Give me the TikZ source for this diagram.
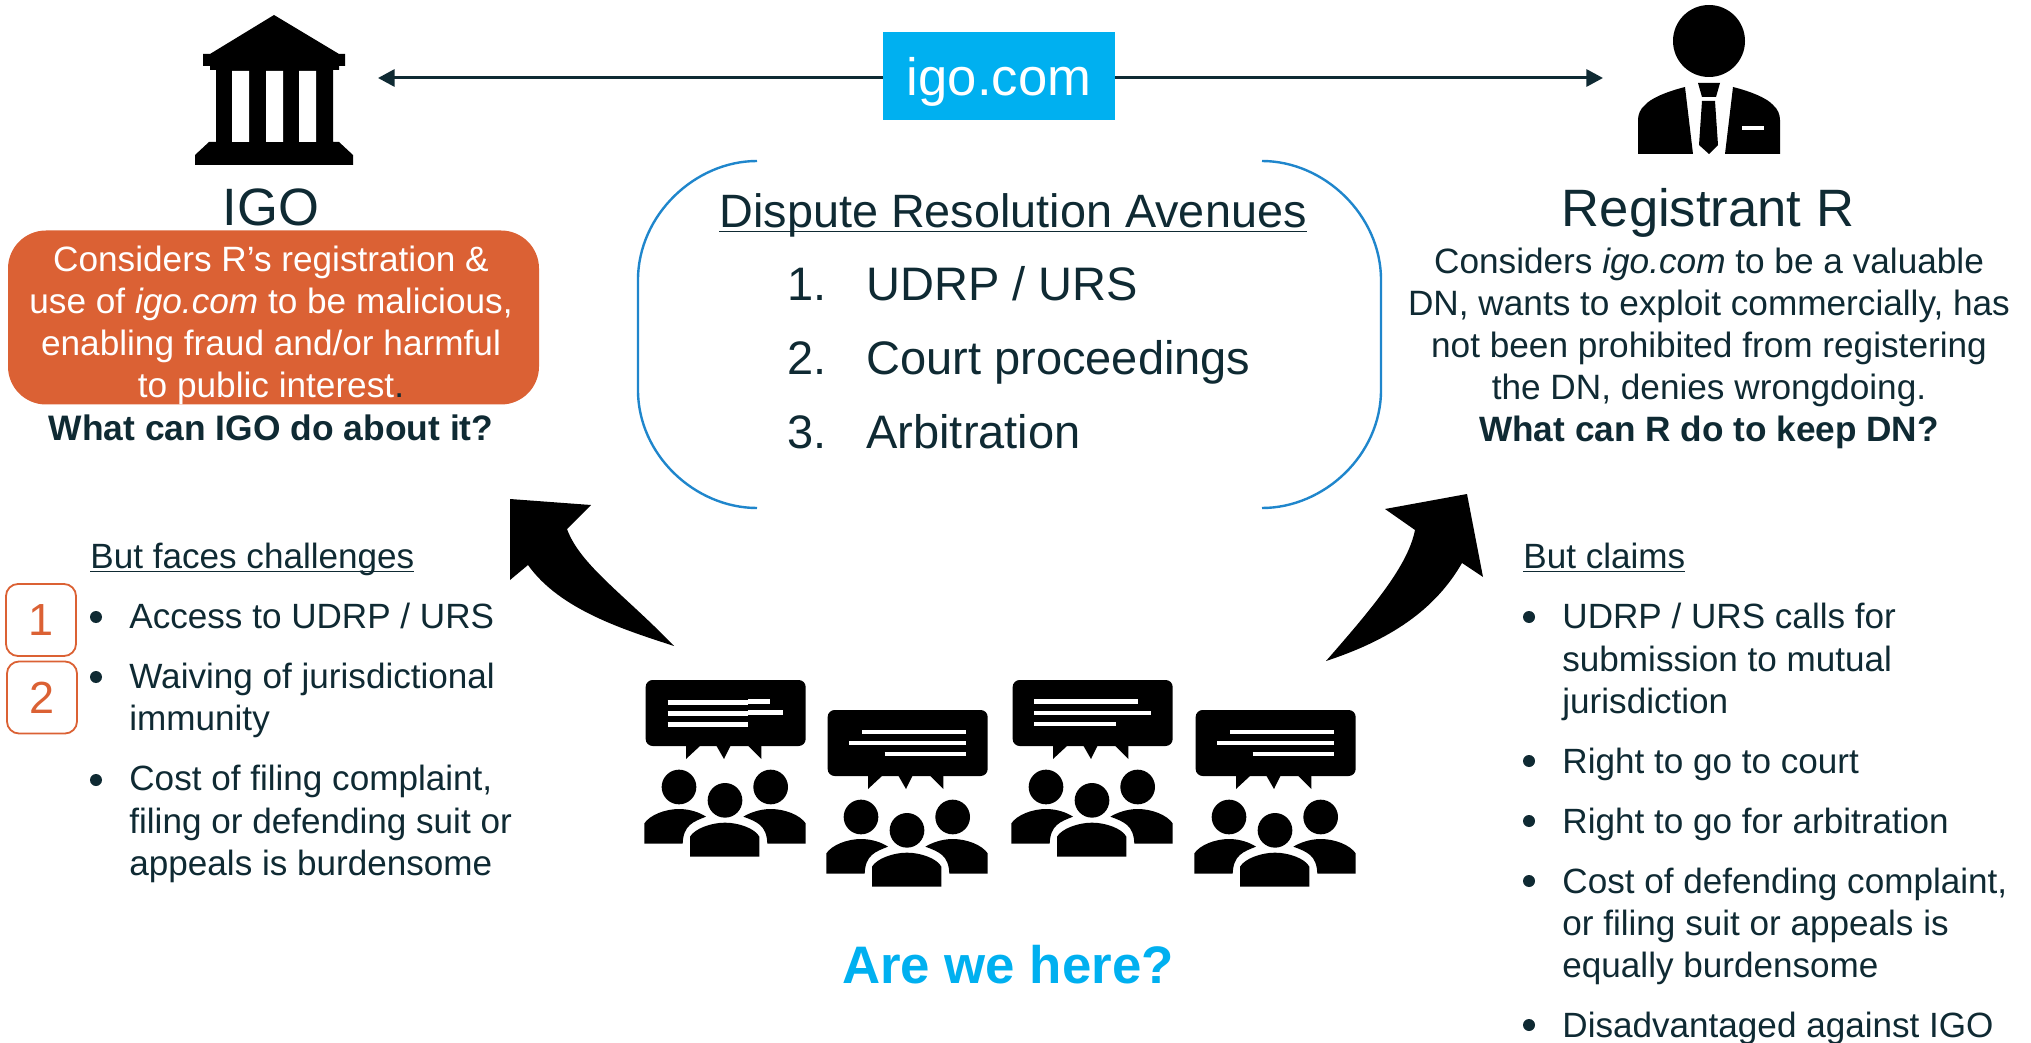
\documentclass[tikz,border=0pt]{standalone}
\usepackage{fontspec}
\setmainfont{Liberation Sans}
\usetikzlibrary{arrows.meta}
\definecolor{ink}{HTML}{0F2A33}
\definecolor{sky}{HTML}{00B0F0}
\definecolor{rust}{HTML}{DB6134}
\definecolor{arcblue}{HTML}{1F86CC}
\newcommand{\ulbar}[1]{\leavevmode\setbox0\hbox{#1}\rlap{\rule[-2.2pt]{\wd0}{0.8pt}}\box0}
\tikzset{
 x=0.5pt,y=-0.5pt,
 body/.style={inner sep=0pt,text=ink,font=\fontsize{17.55}{21}\selectfont,align=left,anchor=base west},
 ctr/.style={inner sep=0pt,text=ink,font=\fontsize{17.6}{21}\selectfont,align=center},
 big/.style={inner sep=0pt,text=ink,font=\fontsize{26.3}{31}\selectfont},
 avenue/.style={inner sep=0pt,text=ink,font=\fontsize{23.5}{28}\selectfont,anchor=base west},
 numbox/.style={draw=rust,line width=0.9pt,rounded corners=6pt,fill=white,inner sep=0pt,minimum width=35pt,minimum height=36pt,text=rust,font=\fontsize{22.5}{26}\selectfont},
 bubbleline/.style={draw=white,line width=2.2pt},
 bracket/.style={draw=arcblue,line width=1.2pt},
 dot/.style={circle,fill=ink,inner sep=0pt,minimum size=6pt},
 topline/.style={ink,line width=1.5pt,-{Triangle[length=8.3pt,width=8.5pt]}},
}
\newcommand{\people}[3]{%
\begin{scope}[shift={(#1,#2)},x=0.16667pt,y=-0.16667pt]
\fill[rounded corners=3.5pt] (47,60) rectangle (527,258);
\fill (168,250)--(168,297)--(210,258)--cycle;
\fill (255,250)--(282,297)--(305,250)--cycle;
\fill (355,258)--(394,297)--(394,250)--cycle;
#3
\fill (147,381) circle (52);
\fill (422,381) circle (52);
\fill (285,421) circle (52);
\fill (43,551)--(43,490) .. controls (60,465) and (105,447) .. (147,447) .. controls (180,447) and (210,458) .. (228,470) .. controls (190,485) and (160,495) .. (158,551)--cycle;
\fill (527,551)--(527,490) .. controls (510,465) and (465,447) .. (422,447) .. controls (390,447) and (360,458) .. (340,470) .. controls (380,485) and (410,495) .. (412,551)--cycle;
\fill (180,590)--(180,530) .. controls (195,505) and (245,488) .. (285,488) .. controls (325,488) and (375,505) .. (388,530)--(388,590)--cycle;
\end{scope}}
\newcommand{\linesS}{%
\draw[bubbleline] (113,127)--(355,127);\draw[bubbleline] (355,125)--(421,125);\draw[bubbleline] (113,161)--(355,161);\draw[bubbleline] (355,158)--(460,158);\draw[bubbleline] (113,194)--(355,194);}
\newcommand{\linesA}{%
\draw[bubbleline] (112,125)--(423,125);\draw[bubbleline] (112,159)--(463,159);\draw[bubbleline] (112,192)--(357,192);}
\newcommand{\linesB}{%
\draw[bubbleline] (151,126)--(463,126);\draw[bubbleline] (111,159)--(463,159);\draw[bubbleline] (218,192)--(463,192);}
\begin{document}
\begin{tikzpicture}
\useasboundingbox (0,0) rectangle (2031,1043);
\fill[white] (0,0) rectangle (2031,1043);

\node[fill=sky,inner sep=0pt,minimum width=116pt,minimum height=44pt] (dn) at (999,76) {};
\node[inner sep=0pt,text=white,font=\fontsize{26.3}{31}\selectfont] (dntext) at (999,82) {igo.com};
\coordinate (igoend) at (378,78);
\coordinate (rend) at (1603,78);
\draw[topline] (dn.west |- igoend) -- (igoend);
\draw[topline] (dn.east |- rend) -- (rend);

\fill (274,15)--(339,54)--(345,54)--(345,66)--(339,66)--(339,70)--(333,70)--(333,142)--(339,142)--(353,155)--(353,165)--(195,165)--(195,155)--(209,142)--(216,142)--(216,70)--(210,70)--(210,66)--(203,66)--(203,54)--(210,54)--cycle;
\fill[white] (232,71) rectangle (249,142) (266,71) rectangle (283,142) (299,71) rectangle (316,142);
\node[big] (igo) at (271,207) {IGO};

\fill (1709,41) circle (36);
\fill (1698,83)--(1720,83)--(1716,97)--(1702,97)--cycle;
\fill (1702,101)--(1715,101)--(1718,145)--(1709,154)--(1699,145)--cycle;
\fill (1685,87) .. controls (1665,92) and (1650,99) .. (1645,105) .. controls (1640,109) and (1638,115) .. (1638,120)--(1638,154)--(1693,154)--cycle;
\fill (1733,87) .. controls (1753,92) and (1768,99) .. (1773,105) .. controls (1778,109) and (1780,115) .. (1780,120)--(1780,154)--(1725,154)--cycle;
\fill[white] (1742,126) rectangle (1764,130);
\node[big] (reg) at (1708,213) {Registrant R};

\node[fill=rust,rounded corners=19pt,minimum width=265.5pt,minimum height=87pt,inner sep=0pt] (orange) at (273.5,317.5) {};
\node[ctr,anchor=center,text=white] (otext) at (271,325) {Considers R’s registration \&\\use of \textit{igo.com} to be malicious,\\enabling fraud and/or harmful\\to public interest\textcolor{ink}{.}};
\node[ctr,anchor=center,font=\fontsize{17.7}{21}\bfseries\selectfont] (ask1) at (271,428) {What can IGO do about it?};

\node[ctr,anchor=north] (rtext) at (1709,248) {Considers \textit{igo.com} to be a valuable\\DN, wants to exploit commercially, has\\not been prohibited from registering\\the DN, denies wrongdoing.\\\textbf{What can R do to keep DN?}};

\draw[bracket] (757,161) .. controls (695,161) and (638,215) .. (638,280)--(638,390) .. controls (638,455) and (695,508) .. (757,508);
\draw[bracket] (1262,161) .. controls (1324,161) and (1381,215) .. (1381,280)--(1381,390) .. controls (1381,455) and (1324,508) .. (1262,508);
\node[inner sep=0pt,text=ink,font=\fontsize{23.4}{28}\selectfont,anchor=base] (drtitle) at (1013,228) {\ulbar{Dispute Resolution Avenues}};
\node[avenue] (n1) at (787,301) {1.};
\node[avenue] (a1) at (866,301) {UDRP / URS};
\node[avenue] (n2) at (787,375) {2.};
\node[avenue] (a2) at (866,375) {Court proceedings};
\node[avenue] (n3) at (787,449) {3.};
\node[avenue] (a3) at (866,449) {Arbitration};

\fill (510,499)--(591,505)--(567,529) .. controls (580,565) and (625,595) .. (674,646) .. controls (625,630) and (560,610) .. (528,565)--(510,580)--cycle;
\fill (1467,494)--(1385,509)--(1415,530) .. controls (1408,565) and (1375,605) .. (1326,661) .. controls (1390,640) and (1435,610) .. (1462,563)--(1483,577)--cycle;

\node[body] (lh) at (90,568) {\ulbar{But faces challenges}};
\node[numbox] (b1) at (41,620) {1};
\node[numbox] (b2) at (42,697.5) {2};
\foreach \y/\n in {617/l1,677/l2,780/l3} \node[dot] (\n) at (96,\y) {};
\node[body] at (129,628) {Access to UDRP / URS};
\node[body] at (129,688) {Waiving of jurisdictional};
\node[body] at (129,730) {immunity};
\node[body] at (129,790) {Cost of filing complaint,};
\node[body] at (129,833) {filing or defending suit or};
\node[body] at (129,875) {appeals is burdensome};

\node[body] (rh) at (1523,568) {\ulbar{But claims}};
\foreach \y/\n in {617/r1,761/r2,821/r3,881/r4,1025/r5} \node[dot] (\n) at (1529,\y) {};
\node[body] at (1562,628) {UDRP / URS calls for};
\node[body] at (1562,671) {submission to mutual};
\node[body] at (1562,713) {jurisdiction};
\node[body] at (1562,773) {Right to go to court};
\node[body] at (1562,833) {Right to go for arbitration};
\node[body] at (1562,893) {Cost of defending complaint,};
\node[body] at (1562,935) {or filing suit or appeals is};
\node[body] at (1562,977) {equally burdensome};
\node[body] at (1562,1037) {Disadvantaged against IGO};

\people{630}{660}{\linesS}
\people{812}{690}{\linesB}
\people{997}{660}{\linesA}
\people{1180}{690}{\linesB}

\node[inner sep=0pt,text=sky,font=\fontsize{26.4}{31}\bfseries\selectfont] (here) at (1008,965) {Are we here?};
\end{tikzpicture}
\end{document}
